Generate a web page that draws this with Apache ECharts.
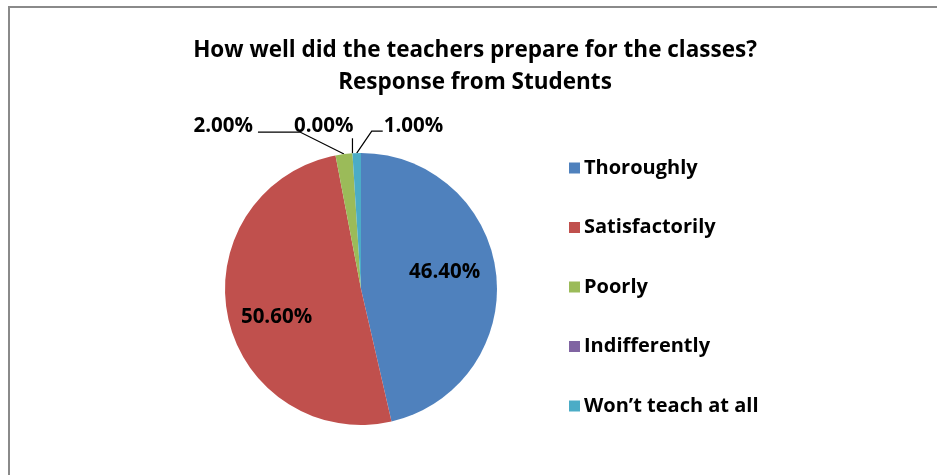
<!DOCTYPE html>
<html>
<head>
<meta charset="utf-8">
<script src="https://cdn.jsdelivr.net/npm/echarts@6/dist/echarts.min.js"></script>
<style>
	html, body { margin: 0; padding: 0; background: #fff; }
	#main { width: 937px; height: 475px; }
</style>
</head>
<body>
<div id="main"></div>
<script>
// 数据
const categories = ['Thoroughly', 'Satisfactorily', 'Poorly', 'Indifferently', 'Won\u2019t teach at all'];
const shares = [46.4, 50.6, 2.0, 0.0, 1.0];
const colors = ['#4F81BD', '#C0504D', '#9BBB59', '#8064A2', '#4BACC6'];
const titleLines = ['How well did the teachers prepare for the classes?', 'Response from Students'];

const FONT = '"Open Sans", sans-serif';

// 大扇区标签放在内部，小扇区用引导线
const insideOffsets = { 0: [13, -9], 1: [-15, 14] };
// 引导线折点 / 终点 / 文字位置，相对于扇区边缘点
const calloutTweaks = {
	2: { elbow: [-44, -22], end: [-86, -22], text: [-91, -28], align: 'right' },
	3: { elbow: [0, -8], end: [0, -15], text: [1, -27], align: 'right' },
	4: { elbow: [15, -22], end: [26, -22], text: [27, -27], align: 'left' }
};

let chartData = categories.map((name, i) => {
	let node = { name: name, value: shares[i] };
	if (insideOffsets[i]) {
		node.label = { position: 'inside', offset: insideOffsets[i] };
		node.labelLine = { show: false };
	}
	return node;
});

let myChart = echarts.init(document.getElementById('main'), null, { renderer: 'canvas' });

let option = {
	animation: false,
	color: colors,
	title: {
		text: titleLines.join('\n'),
		left: 470,
		top: 30,
		textAlign: 'center',
		textStyle: {
			fontFamily: FONT,
			fontWeight: 'bold',
			fontSize: 22.5,
			lineHeight: 32,
			color: '#000'
		}
	},
	legend: {
		orient: 'vertical',
		left: 564,
		top: 153,
		icon: 'rect',
		itemWidth: 11,
		itemHeight: 11,
		itemGap: 39.5,
		selectedMode: false,
		textStyle: {
			fontFamily: FONT,
			fontWeight: 'bold',
			fontSize: 20,
			lineHeight: 20,
			color: '#000',
			padding: [0, 0, 0, -1]
		},
		data: categories
	},
	graphic: [{
		type: 'rect',
		shape: { x: 9, y: 7, width: 1000, height: 1000 },
		style: { fill: 'none', stroke: '#8a8a8a', lineWidth: 2 },
		silent: true
	}],
	series: [{
		type: 'pie',
		center: [361, 289],
		radius: 136,
		startAngle: 90,
		clockwise: true,
		avoidLabelOverlap: false,
		itemStyle: { borderWidth: 0 },
		emphasis: { disabled: true },
		label: {
			show: true,
			position: 'outside',
			formatter: p => p.value.toFixed(2) + '%',
			fontFamily: FONT,
			fontWeight: 'bold',
			fontSize: 20.5,
			color: '#000'
		},
		labelLine: {
			show: true,
			lineStyle: { color: '#000', width: 1.2 }
		},
		labelLayout: function (params) {
			let tw = calloutTweaks[params.dataIndex];
			if (!tw || !params.labelLinePoints) return {};
			let p0 = params.labelLinePoints[0];
			return {
				x: p0[0] + tw.text[0],
				y: p0[1] + tw.text[1],
				align: tw.align,
				verticalAlign: 'middle',
				labelLinePoints: [
					[p0[0], p0[1]],
					[p0[0] + tw.elbow[0], p0[1] + tw.elbow[1]],
					[p0[0] + tw.end[0], p0[1] + tw.end[1]]
				]
			};
		},
		data: chartData
	}]
};

myChart.setOption(option);
</script>
</body>
</html>
